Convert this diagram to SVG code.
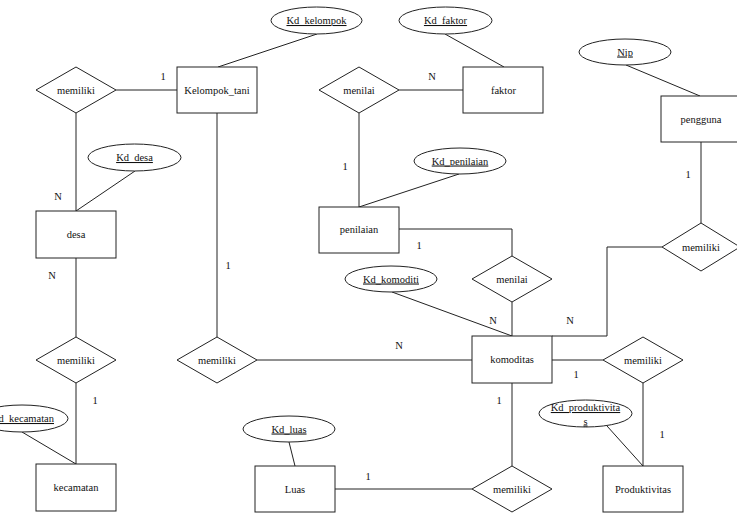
<svg xmlns="http://www.w3.org/2000/svg" width="737" height="522" viewBox="0 0 737 522">
<style>
.e{fill:#fff;stroke:#222;stroke-width:1}
.c{fill:none;stroke:#222;stroke-width:1}
text{font-family:"Liberation Serif","Times New Roman",serif;font-size:10.5px;fill:#111;text-anchor:middle}
.k{text-decoration:underline}
</style>
<rect width="737" height="522" fill="#fff"/>
<g id="connectors">
<path class="c" d="M317,34L218,67"/>
<path class="c" d="M116,90H177"/>
<path class="c" d="M76,113V211"/>
<path class="c" d="M135,171L76,211"/>
<path class="c" d="M76,258V337"/>
<path class="c" d="M76,383V464"/>
<path class="c" d="M22,432L76,464"/>
<path class="c" d="M217,113V337"/>
<path class="c" d="M257,360H472"/>
<path class="c" d="M445,34L504,67"/>
<path class="c" d="M399,90H463"/>
<path class="c" d="M359,113V207"/>
<path class="c" d="M459,174L359,207"/>
<path class="c" d="M399,229H512V256"/>
<path class="c" d="M626,65L700,96"/>
<path class="c" d="M701,142V223"/>
<path class="c" d="M552,336H607V247H662"/>
<path class="c" d="M392,292L512,336"/>
<path class="c" d="M512,302V336"/>
<path class="c" d="M552,360H603"/>
<path class="c" d="M643,383V466"/>
<path class="c" d="M607,426L643,466"/>
<path class="c" d="M512,383V466"/>
<path class="c" d="M335,489H472"/>
<path class="c" d="M289,442L295,466"/>
</g>
<g id="labels">
<text x="163" y="80">1</text>
<text x="58" y="200">N</text>
<text x="52" y="279">N</text>
<text x="95" y="404">1</text>
<text x="228" y="269">1</text>
<text x="432" y="80">N</text>
<text x="345" y="170">1</text>
<text x="419" y="249">1</text>
<text x="688" y="178">1</text>
<text x="493" y="324">N</text>
<text x="570" y="324">N</text>
<text x="399" y="349">N</text>
<text x="576" y="378">1</text>
<text x="499" y="404">1</text>
<text x="662" y="438">1</text>
<text x="368" y="480">1</text>
</g>
<g id="Kelompok_tani"><rect class="e" x="177" y="67" width="80" height="46"/><text x="217" y="93.5">Kelompok_tani</text></g>
<g id="Kd_kelompok"><ellipse class="e" cx="316.5" cy="20.5" rx="45.5" ry="13.5"/><text class="k" x="316.5" y="24">Kd_kelompok</text></g>
<g id="memiliki1"><polygon class="e" points="36,90 76,67 116,90 76,113"/><text x="76" y="93.5">memiliki</text></g>
<g id="Kd_desa"><ellipse class="e" cx="134.5" cy="157.5" rx="46.5" ry="13.5"/><text class="k" x="134.5" y="161">Kd_desa</text></g>
<g id="desa"><rect class="e" x="36" y="211" width="80" height="47"/><text x="76" y="238">desa</text></g>
<g id="memiliki2"><polygon class="e" points="36,360 76,337 116,360 76,383"/><text x="76" y="363.5">memiliki</text></g>
<g id="Kd_kecamatan"><ellipse class="e" cx="22" cy="418.5" rx="46" ry="13.5"/><text class="k" x="22.5" y="422">Kd_kecamatan</text></g>
<g id="kecamatan"><rect class="e" x="36" y="464" width="80" height="47"/><text x="76" y="491">kecamatan</text></g>
<g id="memiliki3"><polygon class="e" points="177,360 217,337 257,360 217,383"/><text x="217" y="363.5">memiliki</text></g>
<g id="Kd_faktor"><ellipse class="e" cx="445.5" cy="20.5" rx="46.5" ry="13.5"/><text class="k" x="445.5" y="24">Kd_faktor</text></g>
<g id="faktor"><rect class="e" x="463" y="67" width="80" height="46"/><text x="503.5" y="93.5">faktor</text></g>
<g id="menilai1"><polygon class="e" points="319,90 359,67 399,90 359,113"/><text x="359" y="93.5">menilai</text></g>
<g id="Kd_penilaian"><ellipse class="e" cx="460" cy="161" rx="46" ry="13"/><text class="k" x="460" y="164.5">Kd_penilaian</text></g>
<g id="penilaian"><rect class="e" x="319" y="207" width="80" height="46"/><text x="359" y="233">penilaian</text></g>
<g id="Nip"><ellipse class="e" cx="625" cy="52" rx="46" ry="13"/><text class="k" x="625" y="55.5">Nip</text></g>
<g id="pengguna"><rect class="e" x="661" y="96" width="80" height="46"/><text x="701" y="122.5">pengguna</text></g>
<g id="memiliki4"><polygon class="e" points="662,247 701,223 740,247 701,271"/><text x="701" y="250.5">memiliki</text></g>
<g id="menilai2"><polygon class="e" points="472,279 512,256 552,279 512,302"/><text x="512" y="282.5">menilai</text></g>
<g id="Kd_komoditi"><ellipse class="e" cx="391" cy="279" rx="46" ry="13"/><text class="k" x="391" y="282.5">Kd_komoditi</text></g>
<g id="komoditas"><rect class="e" x="472" y="336" width="80" height="47"/><text x="512" y="363">komoditas</text></g>
<g id="memiliki5"><polygon class="e" points="603,360 643,337 683,360 643,383"/><text x="643" y="363.5">memiliki</text></g>
<g id="Kd_produktivitas"><ellipse class="e" cx="585.5" cy="413.5" rx="46.5" ry="13.5"/><text class="k" x="585.5" y="411">Kd_produktivita</text><text class="k" x="585.5" y="424.5">s</text></g>
<g id="Produktivitas"><rect class="e" x="603" y="466" width="80" height="46"/><text x="643" y="492.5">Produktivitas</text></g>
<g id="memiliki6"><polygon class="e" points="472,489 512,466 552,489 512,512"/><text x="512" y="492.5">memiliki</text></g>
<g id="Kd_luas"><ellipse class="e" cx="289" cy="429" rx="46" ry="13"/><text class="k" x="289" y="432.5">Kd_luas</text></g>
<g id="Luas"><rect class="e" x="255" y="466" width="80" height="46"/><text x="295" y="492.5">Luas</text></g>
</svg>
